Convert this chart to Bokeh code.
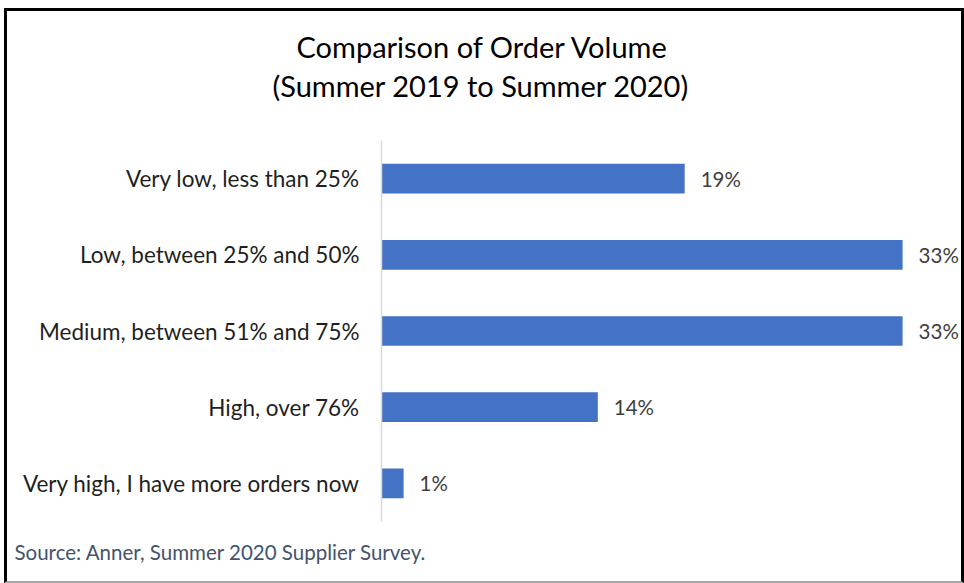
from bokeh.plotting import figure
from bokeh.models import ColumnDataSource, FactorRange, Range1d, Title
from bokeh.core.properties import value
from bokeh.embed import file_html
from bokeh.resources import INLINE

categories = [
    "Very low, less than 25%",
    "Low, between 25% and 50%",
    "Medium, between 51% and 75%",
    "High, over 76%",
    "Very high, I have more orders now",
]
values = [19.2, 33.0, 33.0, 13.7, 1.4]
value_labels = ["19%", "33%", "33%", "14%", "1%"]

title_lines = ["Comparison of Order Volume", "(Summer 2019 to Summer 2020)"]
source_note = "Source: Anner, Summer 2020 Supplier Survey."

FONT = "Lato"

src = ColumnDataSource(dict(cat=categories, val=values, lab=value_labels))

p = figure(
    width=960, height=575,
    y_range=FactorRange(factors=categories[::-1]),
    x_range=Range1d(0, 37.11),
    output_backend="svg", toolbar_location=None,
    min_border_left=374, min_border_right=0,
    min_border_top=129, min_border_bottom=65,
    styles={
        "margin-left": "4px", "margin-top": "8px",
        "border-left": "3px solid #000", "border-top": "3px solid #000",
        "border-right": "3px solid #000", "border-bottom": "2px solid #a6a6a6",
        "overflow": "hidden",
    },
)
p.outline_line_color = None
p.background_fill_color = "white"
p.border_fill_color = "white"
p.xgrid.visible = False
p.ygrid.visible = False
p.xaxis.visible = False

ax = p.yaxis[0]
ax.axis_line_color = "#d9d9d9"
ax.axis_line_width = 1.5
ax.major_tick_line_color = None
ax.minor_tick_line_color = None
ax.major_tick_out = 0
ax.major_tick_in = 0
ax.major_label_standoff = 22
ax.major_label_text_font = FONT
ax.major_label_text_font_size = "22.5px"
ax.major_label_text_color = "#1f1f1f"

p.hbar(y="cat", right="val", left=0, height=0.39, source=src,
       fill_color="#4472C4", line_color=None)

p.text(x="val", y="cat", text="lab", source=src, x_offset=16,
       text_baseline="middle", text_align="left",
       text_font=value(FONT), text_font_size="20.5px", text_color="#404040")

# title block (first added sits nearest the frame)
p.add_layout(Title(text=" ", text_font_size="32px", standoff=0), "above")
p.add_layout(Title(text=title_lines[1], align="left", offset=-109, standoff=0,
                   text_font=FONT, text_font_size="29px", text_font_style="normal",
                   text_color="#000000"), "above")
p.add_layout(Title(text=title_lines[0], align="left", offset=-85, standoff=3,
                   text_font=FONT, text_font_size="29px", text_font_style="normal",
                   text_color="#000000"), "above")

p.add_layout(Title(text=source_note, align="left", offset=-367, standoff=33,
                   text_font=FONT, text_font_size="20.5px", text_font_style="normal",
                   text_color="#44546A"), "below")

open("out.html", "w").write(file_html(p, INLINE))
